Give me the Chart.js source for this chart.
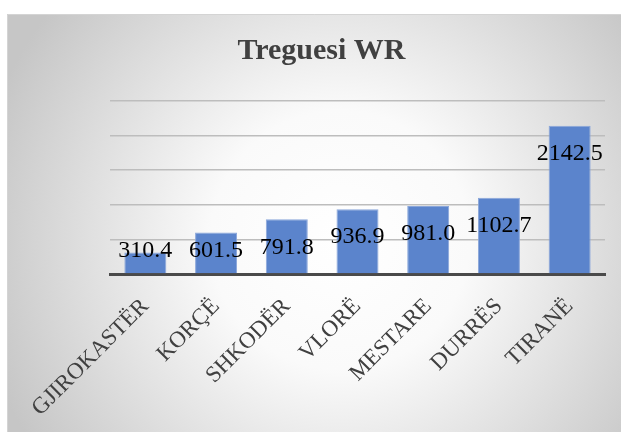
<!DOCTYPE html>
<html>
<head>
<meta charset="utf-8">
<script src="https://cdn.jsdelivr.net/npm/chart.js@4.4.0/dist/chart.umd.min.js"></script>
<style>
    html, body { margin: 0; padding: 0; background: #ffffff; }
    #wrap { width: 621px; height: 432px; position: relative; }
</style>
</head>
<body>
<div id="wrap"><canvas id="wrChart" width="621" height="432"></canvas></div>
<script>
// Data
const cities = ['GJIROKASTËR', 'KORÇË', 'SHKODËR', 'VLORË', 'MESTARE', 'DURRËS', 'TIRANË'];
const wrValues = [310.4, 601.5, 791.8, 936.9, 981.0, 1102.7, 2142.5];
const yMax = 2500;
const yStep = 500;

// Grey radial backdrop with a thin frame, like the Excel chart area
const backdrop = {
    id: 'backdrop',
    beforeDraw(chart) {
        const ctx = chart.ctx;
        ctx.save();
        ctx.fillStyle = '#ffffff';
        ctx.fillRect(0, 0, chart.width, chart.height);
        const g = ctx.createRadialGradient(340, 240, 0, 340, 240, 370);
        g.addColorStop(0, '#ffffff');
        g.addColorStop(0.35, '#fafafa');
        g.addColorStop(1, '#c6c6c6');
        ctx.fillStyle = g;
        ctx.fillRect(7, 14, chart.width - 7, chart.height - 14);
        ctx.strokeStyle = '#d4d4d4';
        ctx.lineWidth = 1;
        ctx.beginPath();
        ctx.moveTo(7.5, chart.height);
        ctx.lineTo(7.5, 14.5);
        ctx.lineTo(chart.width, 14.5);
        ctx.stroke();
        ctx.restore();
    }
};

// Value labels: near the top of each bar, but never lower than the base row
const valueLabels = {
    id: 'valueLabels',
    afterDatasetsDraw(chart) {
        const ctx = chart.ctx;
        const base = chart.scales.y.getPixelForValue(0);
        const meta = chart.getDatasetMeta(0);
        ctx.save();
        ctx.font = '24px "Liberation Serif", "Times New Roman", serif';
        ctx.fillStyle = '#000000';
        ctx.textAlign = 'center';
        ctx.textBaseline = 'middle';
        meta.data.forEach((bar, i) => {
            const y = Math.min(bar.y + 28, base - 23);
            ctx.fillText(wrValues[i].toFixed(1), bar.x, y);
        });
        ctx.restore();
    }
};

new Chart(document.getElementById('wrChart'), {
    type: 'bar',
    data: {
        labels: cities,
        datasets: [{
            label: 'Treguesi WR',
            data: wrValues,
            backgroundColor: '#5b84cc',
            borderColor: '#8aa6da',
            borderWidth: 1,
            categoryPercentage: 1,
            barPercentage: 0.594
        }]
    },
    options: {
        responsive: false,
        animation: false,
        devicePixelRatio: 1,
        layout: { padding: { left: 38, right: 16, top: 14, bottom: 0 } },
        plugins: {
            legend: { display: false },
            tooltip: { enabled: false },
            title: {
                display: true,
                text: 'Treguesi WR',
                color: '#404040',
                font: { family: '"Liberation Serif", "Times New Roman", serif', size: 30, weight: 'bold' },
                padding: { top: 19, bottom: 32 }
            }
        },
        scales: {
            x: {
                grid: { display: false },
                border: { display: true, color: '#4a4a4a', width: 3 },
                ticks: {
                    color: '#404040',
                    font: { family: '"Liberation Serif", "Times New Roman", serif', size: 23 },
                    minRotation: 45,
                    maxRotation: 45,
                    padding: 11
                },
                afterFit(scale) { scale.height = 158; }
            },
            y: {
                min: 0,
                max: yMax,
                ticks: { display: false, stepSize: yStep },
                grid: { color: '#bdbdbd', lineWidth: 1.5, drawTicks: false },
                border: { display: false },
                afterFit(scale) { scale.width = 72; }
            }
        }
    },
    plugins: [backdrop, valueLabels]
});
</script>
</body>
</html>
